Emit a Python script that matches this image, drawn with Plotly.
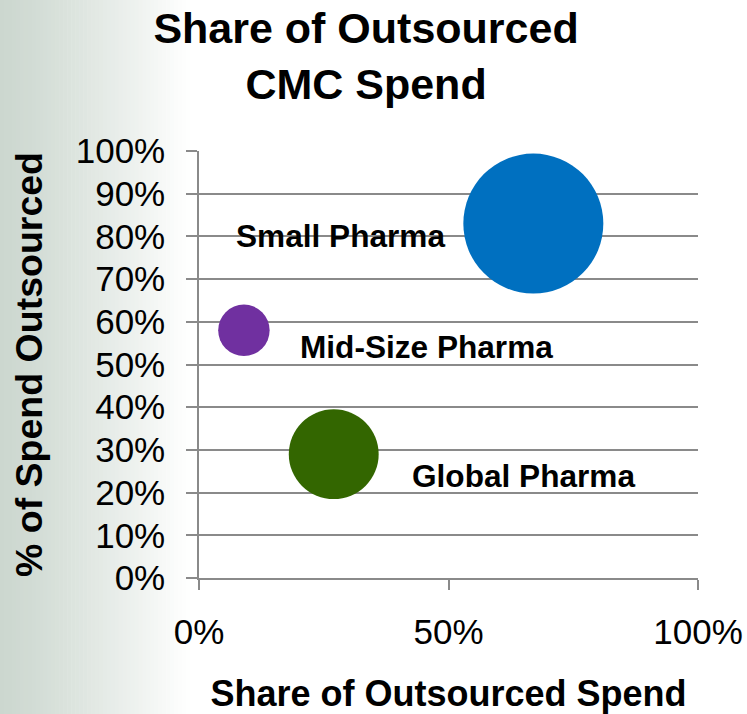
import plotly.graph_objects as go

# Segment data
segments = ["Small Pharma", "Mid-Size Pharma", "Global Pharma"]
share_of_spend = [0.67, 0.09, 0.27]      # x: share of outsourced spend
pct_outsourced = [0.83, 0.58, 0.29]      # y: % of spend outsourced
bubble_size = [7.4, 1.0, 3.05]           # relative bubble area
colors = ["#0070C0", "#7030A0", "#336600"]

x_ticks = [0, 0.5, 1.0]
x_tick_text = ["0%", "50%", "100%"]
y_ticks = [i / 10 for i in range(11)]
y_tick_text = [f"{i * 10}%" for i in range(11)]

# label offsets (px) relative to each bubble centre
label_dx = [-193, 183, 190]
label_dy = [-12, -17, -22]

FONT = "Liberation Sans, Arial, sans-serif"
GRID = "#8a8a8a"

W, H = 747, 714
L, R, T, B = 199, 49, 151, 136

max_diam = 140
sizeref = 2.0 * max(bubble_size) / max_diam ** 2

fig = go.Figure()
fig.add_trace(go.Scatter(
    x=share_of_spend, y=pct_outsourced, mode="markers",
    marker=dict(size=bubble_size, sizemode="area", sizeref=sizeref,
                color=colors, opacity=1, line=dict(width=0)),
    text=segments, hoverinfo="text", showlegend=False,
))

annotations = []
for name, xv, yv, dx, dy in zip(segments, share_of_spend, pct_outsourced, label_dx, label_dy):
    annotations.append(dict(
        x=xv, y=yv, xref="x", yref="y", text=name, showarrow=False,
        xshift=dx, yshift=dy, xanchor="center", yanchor="middle",
        font=dict(family=FONT, size=31.6, color="black", weight="bold"),
    ))

# soft grey-green wash along the left edge of the slide
shapes = []
plot_w = W - L - R
fade_px = 190
steps = 48
c0 = (204, 215, 207)
for i in range(steps):
    p0 = i * fade_px / steps
    p1 = (i + 1) * fade_px / steps
    t = (i + 0.5) / steps
    f = t ** 1.2
    col = tuple(round(c + (255 - c) * f) for c in c0)
    shapes.append(dict(
        type="rect", xref="paper", yref="paper",
        x0=(p0 - L) / plot_w, x1=(p1 - L) / plot_w + 0.001, y0=-0.6, y1=1.6,
        fillcolor="rgb(%d,%d,%d)" % col, line=dict(width=0), layer="below",
    ))

fig.update_layout(
    width=W, height=H,
    margin=dict(l=L, r=R, t=T, b=B, autoexpand=False),
    paper_bgcolor="white", plot_bgcolor="rgba(0,0,0,0)",
    font=dict(family=FONT, color="black"),
    title=dict(
        text="Share of Outsourced<br>CMC Spend",
        font=dict(family=FONT, size=43, color="black", weight="bold"),
        x=0.49, xref="container", xanchor="center",
        y=0.94, yref="container", yanchor="top",
    ),
    xaxis=dict(
        range=[0, 1], tickvals=x_ticks, ticktext=x_tick_text,
        showgrid=False, zeroline=False,
        showline=True, linecolor=GRID, linewidth=1.5,
        ticks="outside", ticklen=10, tickcolor=GRID, tickwidth=1.5,
        ticklabelstandoff=12,
        tickfont=dict(family=FONT, size=35, color="black"),
        title=dict(text="Share of Outsourced Spend", standoff=33,
                   font=dict(family=FONT, size=36, color="black", weight="bold")),
        fixedrange=True,
    ),
    yaxis=dict(
        range=[0, 1], tickvals=y_ticks, ticktext=y_tick_text,
        showgrid=True, gridcolor=GRID, gridwidth=1.5, zeroline=False,
        showline=True, linecolor=GRID, linewidth=1.5,
        ticks="outside", ticklen=11, tickcolor=GRID, tickwidth=1.5,
        ticklabelstandoff=14,
        tickfont=dict(family=FONT, size=35, color="black"),
        title=dict(text="% of Spend Outsourced", standoff=22,
                   font=dict(family=FONT, size=37.5, color="black", weight="bold")),
        fixedrange=True,
    ),
    annotations=annotations,
    shapes=shapes,
)

fig.write_html("out.html")
